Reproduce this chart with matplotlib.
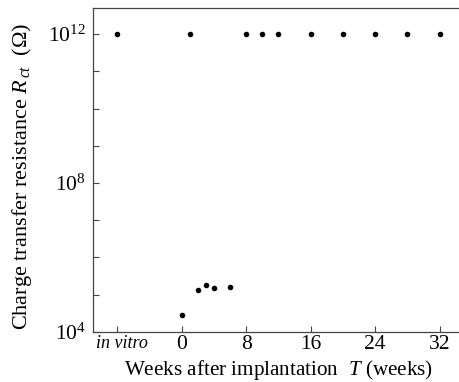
import matplotlib
matplotlib.use("Agg")
import matplotlib.pyplot as plt
import matplotlib.transforms as mtransforms
from matplotlib.ticker import FixedLocator, NullFormatter

plt.rcParams['font.family'] = ['Liberation Serif', 'DejaVu Serif']
plt.rcParams['mathtext.fontset'] = 'custom'
plt.rcParams['mathtext.rm'] = 'Liberation Serif'
plt.rcParams['mathtext.it'] = 'Liberation Serif:italic'

# Data
weeks_high = [-8, 1, 8, 10, 12, 16, 20, 24, 28, 32]
rct_high = [1e12] * 10
weeks_low = [0, 2, 3, 4, 6]
rct_low = [2.9e4, 1.35e5, 1.85e5, 1.55e5, 1.6e5]
xtick_pos = [-8, 0, 8, 16, 24, 32]
xtick_labels = ['in vitro', '0', '8', '16', '24', '32']

fig = plt.figure(figsize=(4.59, 3.82), dpi=100)
ax = fig.add_axes([0.2026, 0.131, 0.7974, 0.848])

ax.scatter(weeks_high, rct_high, s=16, color='black', zorder=3, linewidths=0)
ax.scatter(weeks_low, rct_low, s=16, color='black', zorder=3, linewidths=0)

ax.set_yscale('log')
ax.set_ylim(1e4, 10**12.7)
ax.set_xlim(-11, 34.4)

ax.yaxis.set_major_locator(FixedLocator([1e4, 1e8, 1e12]))
ax.set_yticklabels([r'$10^4$', r'$10^8$', r'$10^{12}$'])
ax.yaxis.set_minor_locator(FixedLocator([10.0**k for k in range(5, 13) if k not in (8, 12)]))
ax.yaxis.set_minor_formatter(NullFormatter())

ax.set_xticks(xtick_pos)
ax.set_xticklabels(xtick_labels)

ax.tick_params(axis='both', which='both', direction='in', length=4, width=0.8,
               color='#444444', labelsize=15.5)
ax.tick_params(axis='x', pad=2)
ax.tick_params(axis='y', pad=5)

lab0 = ax.get_xticklabels()[0]
lab0.set_style('italic')
lab0.set_fontsize(13)
offset = mtransforms.ScaledTranslation(5 / 100, 0, fig.dpi_scale_trans)
lab0.set_transform(lab0.get_transform() + offset)

ax.spines['right'].set_visible(False)
for s in ['left', 'top', 'bottom']:
    ax.spines[s].set_color('#444444')
    ax.spines[s].set_linewidth(0.9)

ax.set_xlabel(r'Weeks after implantation  $T$ (weeks)', fontsize=15.2)
ax.xaxis.set_label_coords(0.508, -0.08)
ax.set_ylabel(r'Charge transfer resistance $R_{\,ct}$  ($\Omega$)', fontsize=16)
ax.yaxis.set_label_coords(-0.162, 0.48)

fig.savefig('out.png', dpi=100)
